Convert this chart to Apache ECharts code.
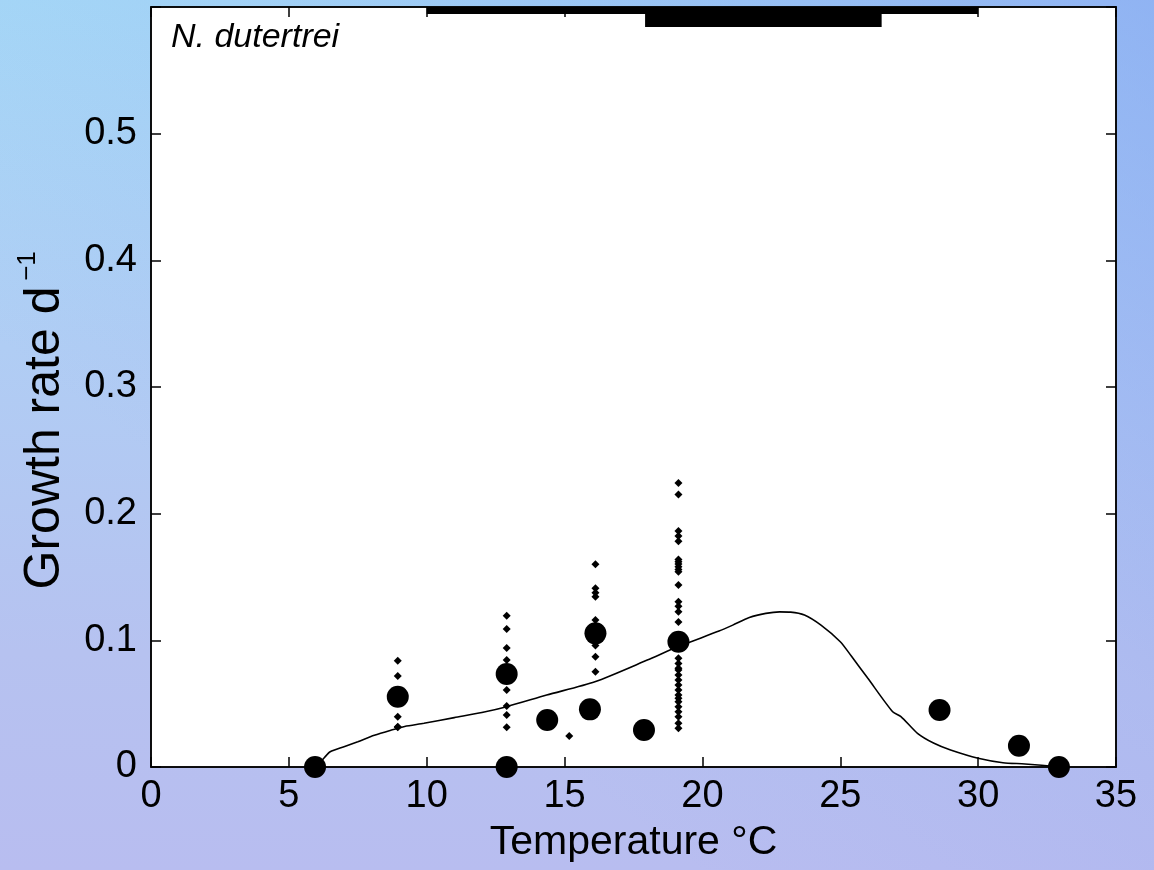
<!DOCTYPE html>
<html>
<head>
<meta charset="utf-8">
<script src="https://cdn.jsdelivr.net/npm/echarts@6/dist/echarts.min.js"></script>
<style>
html,body{margin:0;padding:0;width:1154px;height:870px;overflow:hidden;}
body{background:
  linear-gradient(to bottom left, rgba(128,152,240,0.6) 0%, rgba(128,152,240,0.15) 40%, rgba(128,152,240,0) 70%),
  linear-gradient(to bottom, #a8dcf7 0%, #b0cdf4 40%, #b6c2f0 75%, #b8bdf0 100%);}
#chart{width:1154px;height:870px;}
</style>
</head>
<body>
<div id="chart"></div>
<script>
// ---- data ----
const panelTitle = 'N. dutertrei';
const xName = 'Temperature °C';
const yName = 'Growth rate d';
const ySup = '−1';

// fitted curve
const curveT = [6.0, 6.3, 6.5, 7.0, 7.5, 8.1, 8.7, 9.2, 9.9, 11.0, 12.0, 12.9, 14.35, 16.1, 18.0, 19.1, 20.6, 21.1, 21.7, 22.3, 22.8, 23.2, 23.7, 24.3, 25.0, 25.4, 26.0, 26.9, 27.2, 27.8, 28.4, 29.0, 30.0, 30.9, 31.7, 33.0];
const curveG = [0.0, 0.0077, 0.012, 0.016, 0.020, 0.025, 0.029, 0.032, 0.0345, 0.039, 0.043, 0.0476, 0.0568, 0.0673, 0.0844, 0.0949, 0.1073, 0.112, 0.118, 0.1213, 0.1225, 0.1223, 0.120, 0.112, 0.0989, 0.0876, 0.070, 0.0436, 0.0398, 0.0266, 0.0187, 0.0134, 0.0069, 0.0034, 0.0024, 0.0];

// individual measurements (small markers)
const smallT = [
  8.95, 8.95, 8.95, 8.95, 8.95,
  12.9, 12.9, 12.9, 12.9, 12.9, 12.9, 12.9, 12.9,
  15.17,
  16.12, 16.12, 16.12, 16.12, 16.12, 16.12, 16.12, 16.12,
  19.13, 19.13, 19.13, 19.13, 19.13, 19.13, 19.13, 19.13, 19.13, 19.13, 19.13, 19.13, 19.13, 19.13, 19.13, 19.13,
  19.13, 19.13, 19.13, 19.13, 19.13, 19.13, 19.13, 19.13, 19.13, 19.13, 19.13, 19.13, 19.13, 19.13, 19.13, 19.13
];
const smallG = [
  0.0839, 0.0718, 0.0397, 0.0313, 0.0318,
  0.1194, 0.1089, 0.0939, 0.0844, 0.0608, 0.0481, 0.041, 0.0313,
  0.0245,
  0.160, 0.1412, 0.1375, 0.1344, 0.116, 0.096, 0.087, 0.0752,
  0.2243, 0.2152, 0.1864, 0.1823, 0.1783, 0.1639, 0.162, 0.1602, 0.158, 0.156, 0.1541, 0.1436, 0.1304, 0.127, 0.1225, 0.1144,
  0.0858, 0.0818, 0.0779, 0.0765, 0.0726, 0.0686, 0.0647, 0.0608, 0.0568, 0.0542, 0.0515, 0.0476, 0.0436, 0.0397, 0.0345, 0.0305, 0.0252, 0.0205
];

// mean values (large markers)
const bigT = [5.95, 8.95, 12.9, 12.9, 14.37, 15.92, 16.12, 17.88, 19.13, 28.6, 31.48, 32.93];
const bigG = [0.0, 0.0555, 0.0734, 0.0, 0.0371, 0.0455, 0.1055, 0.0292, 0.0989, 0.045, 0.0168, 0.0];

// range bars along the top edge: [xStart, xEnd, yTop, yBottom]
const rangeThin = [10, 30, 0.6, 0.5945];
const rangeThick = [17.92, 26.5, 0.6, 0.5842];

// axes
const xMin = 0, xMax = 35, xStep = 5;
const yMin = 0, yMax = 0.6, yStep = 0.1;

// ---- chart ----
const FONT = "'Liberation Sans', Arial, Helvetica, sans-serif";
const chart = echarts.init(document.getElementById('chart'), null, {renderer: 'canvas'});

const zip = (a, b) => a.map((v, i) => [v, b[i]]);

const tick = () => ({show: true, inside: false, length: -10, lineStyle: {color: '#000', width: 1.5}});
const line = () => ({show: true, onZero: false, lineStyle: {color: '#000', width: 1.5}});

const rectItem = function (params, api) {
  const p0 = api.coord([api.value(0), api.value(2)]);
  const p1 = api.coord([api.value(1), api.value(3)]);
  return {
    type: 'rect',
    shape: {x: p0[0], y: p0[1], width: p1[0] - p0[0], height: p1[1] - p0[1]},
    style: {fill: '#000'}
  };
};

chart.setOption({
  backgroundColor: 'transparent',
  animation: false,
  grid: {left: 151, right: 38, top: 7, bottom: 103, show: true, backgroundColor: '#fff', borderColor: '#000', borderWidth: 1.5},
  xAxis: [
    {type: 'value', min: xMin, max: xMax, interval: xStep, position: 'bottom',
     axisLine: line(), axisTick: tick(), splitLine: {show: false},
     axisLabel: {color: '#000', fontSize: 38, fontFamily: FONT, margin: 11},
     name: xName, nameLocation: 'middle', nameGap: 55,
     nameTextStyle: {color: '#000', fontSize: 41, fontFamily: FONT}},
    {type: 'value', min: xMin, max: xMax, interval: xStep, position: 'top', show: true,
     axisLine: line(), axisTick: tick(), splitLine: {show: false}, axisLabel: {show: false}}
  ],
  yAxis: [
    {type: 'value', min: yMin, max: yMax, interval: yStep, position: 'left',
     axisLine: line(), axisTick: tick(), splitLine: {show: false},
     axisLabel: {color: '#000', fontSize: 38, fontFamily: FONT, margin: 14,
       formatter: v => (Math.abs(v - yMax) < 1e-9 ? '' : (v === 0 ? '0' : v.toFixed(1)))}},
    {type: 'value', min: yMin, max: yMax, interval: yStep, position: 'right', show: true,
     axisLine: line(), axisTick: tick(), splitLine: {show: false}, axisLabel: {show: false}}
  ],
  series: [
    {type: 'custom', renderItem: rectItem, clip: false, z: 5,
     encode: {x: [0, 1], y: [2, 3]}, data: [rangeThin, rangeThick]},
    {type: 'line', data: zip(curveT, curveG), showSymbol: false, symbol: 'none',
     lineStyle: {color: '#000', width: 1.6}, smooth: 0.25, z: 3},
    {type: 'scatter', data: zip(smallT, smallG), symbol: 'diamond', symbolSize: 8,
     itemStyle: {color: '#000', opacity: 1}, clip: false, z: 4},
    {type: 'scatter', data: zip(bigT, bigG), symbol: 'circle', symbolSize: 22,
     itemStyle: {color: '#000', opacity: 1}, clip: false, z: 4}
  ],
  graphic: [
    {type: 'text', left: 171, top: 21, z: 10,
     style: {text: panelTitle, font: "italic 34px " + FONT, fill: '#000'}},
    {type: 'text', x: 45, y: 438, rotation: Math.PI / 2, z: 10,
     style: {text: yName, font: "50px " + FONT, fill: '#000', align: 'center', verticalAlign: 'middle'}},
    {type: 'text', x: 28, y: 266, rotation: Math.PI / 2, z: 10,
     style: {text: ySup, font: "26px " + FONT, fill: '#000', align: 'center', verticalAlign: 'middle'}}
  ]
});
</script>
</body>
</html>
